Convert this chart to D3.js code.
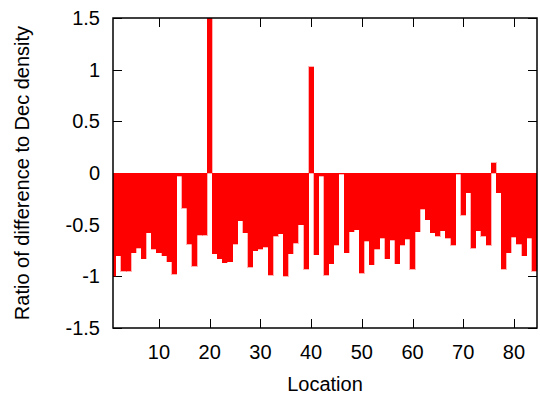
<!DOCTYPE html>
<html>
<head>
<meta charset="utf-8">
<script src="https://cdn.jsdelivr.net/npm/d3@7"></script>
<style>
  body { margin: 0; background: #fff; }
  svg { display: block; font-family: "Liberation Sans", Arial, sans-serif; }
</style>
</head>
<body>
<svg id="chart" width="540" height="402"></svg>
<script>
const locations = d3.range(1, 85);
const ratios = [
  -1.00, -0.80, -0.95, -0.95, -0.77, -0.73, -0.83, -0.58, -0.74, -0.77,
  -0.80, -0.86, -0.98, -0.03, -0.34, -0.69, -0.90, -0.60, -0.60, 1.60,
  -0.78, -0.83, -0.87, -0.86, -0.69, -0.46, -0.58, -0.91, -0.75, -0.74,
  -0.72, -0.99, -0.61, -0.59, -1.00, -0.78, -0.68, -0.50, -0.93, 1.03,
  -0.79, -0.03, -0.99, -0.88, -0.70, -0.01, -0.77, -0.57, -0.55, -0.97,
  -0.66, -0.89, -0.74, -0.63, -0.83, -0.65, -0.88, -0.70, -0.64, -0.93,
  -0.57, -0.35, -0.45, -0.58, -0.61, -0.56, -0.63, -0.70, -0.01, -0.41,
  -0.19, -0.73, -0.56, -0.61, -0.70, 0.10, -0.19, -0.93, -0.77, -0.62,
  -0.69, -0.80, -0.63, -0.95
];
const xTicks = [10, 20, 30, 40, 50, 60, 70, 80];
const yTicks = [-1.5, -1, -0.5, 0, 0.5, 1, 1.5];
const yTickLabels = ["-1.5", "-1", "-0.5", "0", "0.5", "1", "1.5"];
const xTitle = "Location";
const yTitle = "Ratio of difference to Dec density";

const L = 113, R = 537, T = 18, B = 328;
const svg = d3.select("#chart");

const x = d3.scaleLinear().domain([0.93, 84.55]).range([L, R]);
const y = d3.scaleLinear().domain([-1.5, 1.5]).range([B, T]);

svg.append("defs").append("clipPath").attr("id", "clip")
  .append("rect").attr("x", L).attr("y", T).attr("width", R - L).attr("height", B - T);

const tickLen = 9;
// ticks (drawn behind bars)
const tg = svg.append("g").attr("stroke", "#000").attr("stroke-width", 1);
xTicks.forEach(t => {
  const px = Math.round(x(t)) + 0.5;
  tg.append("line").attr("x1", px).attr("x2", px).attr("y1", B).attr("y2", B - tickLen);
  tg.append("line").attr("x1", px).attr("x2", px).attr("y1", T).attr("y2", T + tickLen);
});
yTicks.forEach(t => {
  const py = Math.round(y(t)) + 0.5;
  tg.append("line").attr("x1", L).attr("x2", L + tickLen).attr("y1", py).attr("y2", py);
  tg.append("line").attr("x1", R).attr("x2", R - tickLen).attr("y1", py).attr("y2", py);
});

// bars
svg.append("g").attr("clip-path", "url(#clip)")
  .attr("shape-rendering", "crispEdges")
  .selectAll("rect").data(locations).join("rect")
  .attr("x", d => x(d - 0.5))
  .attr("width", d => x(d + 0.5) - x(d - 0.5))
  .attr("y", (d, i) => y(Math.max(0, ratios[i])))
  .attr("height", (d, i) => Math.abs(y(ratios[i]) - y(0)))
  .attr("fill", "#ff0000")
  .attr("stroke", "#ff0000")
  .attr("stroke-width", 0.3);

// frame
svg.append("rect").attr("x", L).attr("y", T).attr("width", R - L).attr("height", B - T)
  .attr("fill", "none").attr("stroke", "#000").attr("stroke-width", 1.5);

// tick labels
svg.append("g").selectAll("text").data(xTicks).join("text")
  .attr("x", d => x(d)).attr("y", 359)
  .attr("text-anchor", "middle").attr("font-size", 20).attr("fill", "#000")
  .text(d => d);

svg.append("g").selectAll("text").data(yTicks).join("text")
  .attr("x", 100).attr("y", d => y(d) + 7)
  .attr("text-anchor", "end").attr("font-size", 20).attr("fill", "#000")
  .text((d, i) => yTickLabels[i]);

// axis titles
svg.append("text").attr("x", (L + R) / 2).attr("y", 391)
  .attr("text-anchor", "middle").attr("font-size", 20).attr("fill", "#000")
  .text(xTitle);

svg.append("text")
  .attr("transform", `translate(29, ${(T + B) / 2}) rotate(-90)`)
  .attr("text-anchor", "middle").attr("font-size", 20).attr("fill", "#000")
  .text(yTitle);
</script>
</body>
</html>
